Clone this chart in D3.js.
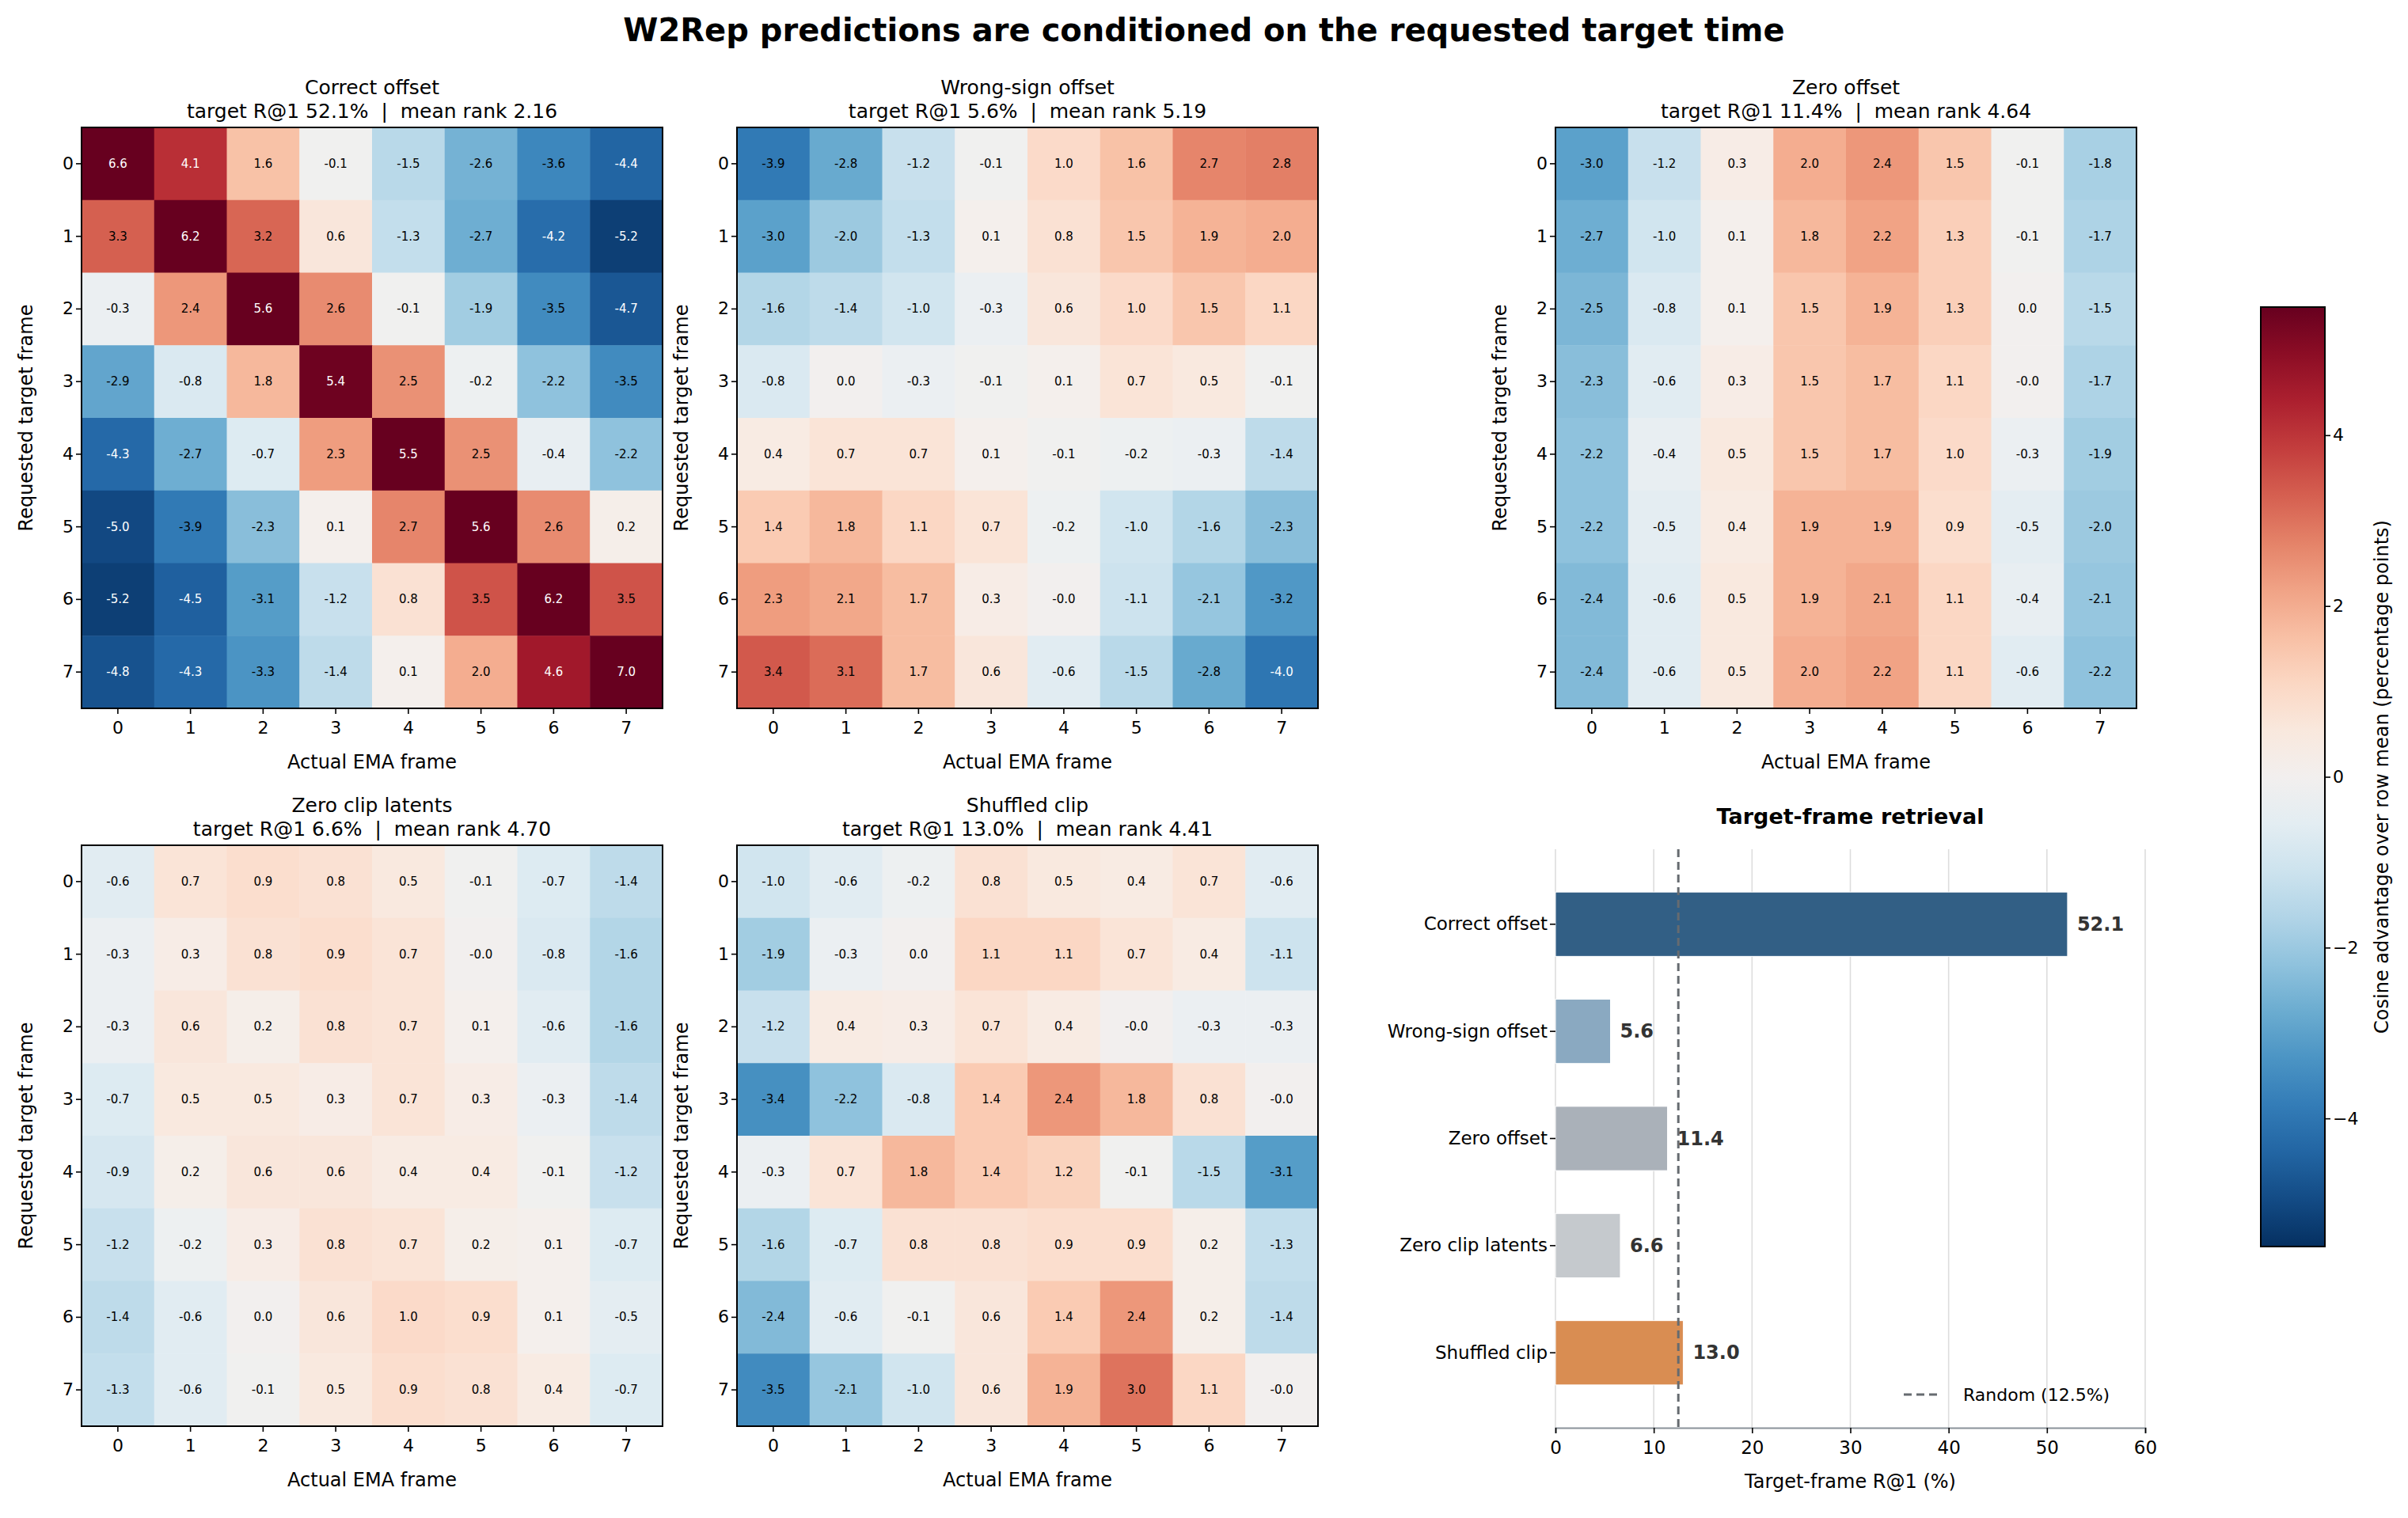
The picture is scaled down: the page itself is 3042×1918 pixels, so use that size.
<!DOCTYPE html>
<html><head><meta charset="utf-8">
<script src="https://cdn.jsdelivr.net/npm/d3@7"></script>
<style>body{margin:0;background:#fff;font-family:"DejaVu Sans",sans-serif;} text{white-space:pre;}</style>
</head><body>
<svg id="fig" width="3042" height="1918"></svg>
<script>
// data
var frames = [0,1,2,3,4,5,6,7];
var panelTitles = ["Correct offset","Wrong-sign offset","Zero offset","Zero clip latents","Shuffled clip"];
var panelSubtitles = ["target R@1 52.1%  |  mean rank 2.16","target R@1 5.6%  |  mean rank 5.19",
  "target R@1 11.4%  |  mean rank 4.64","target R@1 6.6%  |  mean rank 4.70","target R@1 13.0%  |  mean rank 4.41"];
var correctOffset = [
  [6.6,4.1,1.6,-0.1,-1.5,-2.6,-3.6,-4.4],
  [3.3,6.2,3.2,0.6,-1.3,-2.7,-4.2,-5.2],
  [-0.3,2.4,5.6,2.6,-0.1,-1.9,-3.5,-4.7],
  [-2.9,-0.8,1.8,5.4,2.5,-0.2,-2.2,-3.5],
  [-4.3,-2.7,-0.7,2.3,5.5,2.5,-0.4,-2.2],
  [-5.0,-3.9,-2.3,0.1,2.7,5.6,2.6,0.2],
  [-5.2,-4.5,-3.1,-1.2,0.8,3.5,6.2,3.5],
  [-4.8,-4.3,-3.3,-1.4,0.1,2.0,4.6,7.0]];
var wrongSign = [
  [-3.9,-2.8,-1.2,-0.1,1.0,1.6,2.7,2.8],
  [-3.0,-2.0,-1.3,0.1,0.8,1.5,1.9,2.0],
  [-1.6,-1.4,-1.0,-0.3,0.6,1.0,1.5,1.1],
  [-0.8,0.0,-0.3,-0.1,0.1,0.7,0.5,-0.1],
  [0.4,0.7,0.7,0.1,-0.1,-0.2,-0.3,-1.4],
  [1.4,1.8,1.1,0.7,-0.2,-1.0,-1.6,-2.3],
  [2.3,2.1,1.7,0.3,-0.0,-1.1,-2.1,-3.2],
  [3.4,3.1,1.7,0.6,-0.6,-1.5,-2.8,-4.0]];
var zeroOffset = [
  [-3.0,-1.2,0.3,2.0,2.4,1.5,-0.1,-1.8],
  [-2.7,-1.0,0.1,1.8,2.2,1.3,-0.1,-1.7],
  [-2.5,-0.8,0.1,1.5,1.9,1.3,0.0,-1.5],
  [-2.3,-0.6,0.3,1.5,1.7,1.1,-0.0,-1.7],
  [-2.2,-0.4,0.5,1.5,1.7,1.0,-0.3,-1.9],
  [-2.2,-0.5,0.4,1.9,1.9,0.9,-0.5,-2.0],
  [-2.4,-0.6,0.5,1.9,2.1,1.1,-0.4,-2.1],
  [-2.4,-0.6,0.5,2.0,2.2,1.1,-0.6,-2.2]];
var zeroClip = [
  [-0.6,0.7,0.9,0.8,0.5,-0.1,-0.7,-1.4],
  [-0.3,0.3,0.8,0.9,0.7,-0.0,-0.8,-1.6],
  [-0.3,0.6,0.2,0.8,0.7,0.1,-0.6,-1.6],
  [-0.7,0.5,0.5,0.3,0.7,0.3,-0.3,-1.4],
  [-0.9,0.2,0.6,0.6,0.4,0.4,-0.1,-1.2],
  [-1.2,-0.2,0.3,0.8,0.7,0.2,0.1,-0.7],
  [-1.4,-0.6,0.0,0.6,1.0,0.9,0.1,-0.5],
  [-1.3,-0.6,-0.1,0.5,0.9,0.8,0.4,-0.7]];
var shuffledClip = [
  [-1.0,-0.6,-0.2,0.8,0.5,0.4,0.7,-0.6],
  [-1.9,-0.3,0.0,1.1,1.1,0.7,0.4,-1.1],
  [-1.2,0.4,0.3,0.7,0.4,-0.0,-0.3,-0.3],
  [-3.4,-2.2,-0.8,1.4,2.4,1.8,0.8,-0.0],
  [-0.3,0.7,1.8,1.4,1.2,-0.1,-1.5,-3.1],
  [-1.6,-0.7,0.8,0.8,0.9,0.9,0.2,-1.3],
  [-2.4,-0.6,-0.1,0.6,1.4,2.4,0.2,-1.4],
  [-3.5,-2.1,-1.0,0.6,1.9,3.0,1.1,-0.0]];
var barLabels = ["Correct offset","Wrong-sign offset","Zero offset","Zero clip latents","Shuffled clip"];
var barValues = [52.1,5.6,11.4,6.6,13.0];
var barColors = ["#325f85","#8aa9c1","#aab1b9","#c5c9cd","#d98d52"];
var barTicks = [0,10,20,30,40,50,60];
var randomLevel = 12.5;
var cbarTicks = [-4,-2,0,2,4];

var svg = d3.select("#fig");
var vmax = 5.5;
var color = function(v){ return d3.interpolateRdBu(0.5 - Math.max(-1,Math.min(1,v/vmax))/2); };
var fmt = function(v){ return (v < 0 || Object.is(v,-0) ? "-" : "") + Math.abs(v).toFixed(1); };
var tickFmt = function(v){ return v < 0 ? "\u2212" + Math.abs(v) : String(v); };

svg.append("text").attr("x",1521).attr("y",52).attr("text-anchor","middle")
  .style("font-size","40px").style("font-weight","bold").text("W2Rep predictions are conditioned on the requested target time");

var mats = [correctOffset, wrongSign, zeroOffset, zeroClip, shuffledClip];
var boxes = [[103,161],[931,161],[1965,161],[103,1068],[931,1068]];
var size = 734;

mats.forEach(function(m, p){
  var g = svg.append("g").attr("transform","translate("+boxes[p][0]+","+boxes[p][1]+")");
  var x = d3.scaleBand().domain(frames).range([0,size]);
  var y = d3.scaleBand().domain(frames).range([0,size]);
  frames.forEach(function(r){
    g.selectAll(null).data(m[r]).enter().append("rect")
      .attr("x",function(d,i){return x(i);}).attr("y",y(r))
      .attr("width",x.bandwidth()+0.5).attr("height",y.bandwidth()+0.5)
      .attr("fill",function(d){return color(d);});
    g.selectAll(null).data(m[r]).enter().append("text")
      .attr("x",function(d,i){return x(i)+x.bandwidth()/2;}).attr("y",y(r)+y.bandwidth()/2)
      .attr("text-anchor","middle").attr("dominant-baseline","central")
      .style("font-size","15px").attr("fill",function(d){return Math.abs(d)>=4?"#fff":"#000";})
      .text(fmt);
  });
  g.append("rect").attr("width",size).attr("height",size).attr("fill","none").attr("stroke","#000").attr("stroke-width",2);
  var xa = g.append("g").attr("transform","translate(0,"+size+")").call(d3.axisBottom(x).tickSizeOuter(0).tickSize(7));
  var ya = g.append("g").call(d3.axisLeft(y).tickSizeOuter(0).tickSize(7));
  [xa,ya].forEach(function(a){ a.select(".domain").remove(); a.selectAll("text").style("font-size","22px").style("font-family","DejaVu Sans"); a.selectAll("line").attr("stroke-width",1.6); });
  xa.selectAll("text").attr("dy","1.0em");
  g.append("text").attr("x",size/2).attr("y",size+76).attr("text-anchor","middle").style("font-size","24px").text("Actual EMA frame");
  g.append("text").attr("transform","translate(-62,"+size/2+") rotate(-90)").attr("text-anchor","middle").style("font-size","24px").text("Requested target frame");
  g.append("text").attr("x",size/2).attr("y",-42).attr("text-anchor","middle").style("font-size","25px").text(panelTitles[p]);
  g.append("text").attr("x",size/2).attr("y",-12).attr("text-anchor","middle").style("font-size","25px").text(panelSubtitles[p]);
});

// bar chart
var bg = svg.append("g").attr("transform","translate(1965,1073)");
var bw = 745, bh = 731;
var bx = d3.scaleLinear().domain([0,60]).range([0,bw]);
var by = d3.scaleBand().domain(barLabels).range([0,bh]).padding(0.4);
bg.selectAll(null).data(barTicks).enter().append("line")
  .attr("x1",bx).attr("x2",bx).attr("y1",0).attr("y2",bh).attr("stroke","#dddddd").attr("stroke-width",1.6);
bg.selectAll(null).data(barValues).enter().append("rect")
  .attr("x",0).attr("y",function(d,i){return by(barLabels[i]);})
  .attr("width",function(d){return bx(d);}).attr("height",by.bandwidth())
  .attr("fill",function(d,i){return barColors[i];}).attr("stroke","#fff").attr("stroke-width",1);
bg.selectAll(null).data(barValues).enter().append("text")
  .attr("x",function(d){return bx(d)+12;}).attr("y",function(d,i){return by(barLabels[i])+by.bandwidth()/2;})
  .attr("dominant-baseline","central").style("font-size","24px").style("font-weight","bold").attr("fill","#333")
  .text(function(d){return d.toFixed(1);});
bg.append("line").attr("x1",bx(randomLevel)).attr("x2",bx(randomLevel)).attr("y1",0).attr("y2",bh)
  .attr("stroke","#666b70").attr("stroke-width",3).attr("stroke-dasharray","10,6");
var bxa = bg.append("g").attr("transform","translate(0,"+bh+")").call(d3.axisBottom(bx).tickValues(barTicks).tickSize(7));
bxa.select(".domain").attr("stroke","#8a9299").attr("stroke-width",2);
var bya = bg.append("g").call(d3.axisLeft(by).tickSize(7));
bya.select(".domain").remove();
[bxa,bya].forEach(function(a){ a.selectAll("text").style("font-size","23px").style("font-family","DejaVu Sans"); a.selectAll("line").attr("stroke-width",1.6); });
bxa.selectAll("text").attr("dy","1.0em");
bg.append("text").attr("x",bw/2).attr("y",bh+76).attr("text-anchor","middle").style("font-size","24px").text("Target-frame R@1 (%)");
bg.append("text").attr("x",bw/2).attr("y",-32).attr("text-anchor","middle").style("font-size","27px").style("font-weight","bold").text("Target-frame retrieval");
bg.append("line").attr("x1",bw-305).attr("x2",bw-257).attr("y1",bh-42).attr("y2",bh-42)
  .attr("stroke","#666b70").attr("stroke-width",3).attr("stroke-dasharray","10,6");
bg.append("text").attr("x",bw-230).attr("y",bh-42).attr("dominant-baseline","central").style("font-size","22px").text("Random (12.5%)");

// colorbar
var cg = svg.append("g").attr("transform","translate(2856,388)");
var ch = 1187, cw = 81;
var cy = d3.scaleLinear().domain([-vmax,vmax]).range([ch,0]);
var grad = svg.append("defs").append("linearGradient").attr("id","cb").attr("x1",0).attr("y1",1).attr("x2",0).attr("y2",0);
d3.range(0,1.0001,0.05).forEach(function(t){
  grad.append("stop").attr("offset",t).attr("stop-color",color(-vmax+2*vmax*t));
});
cg.append("rect").attr("width",cw).attr("height",ch).attr("fill","url(#cb)").attr("stroke","#000").attr("stroke-width",2);
var ca = cg.append("g").attr("transform","translate("+cw+",0)").call(d3.axisRight(cy).tickValues(cbarTicks).tickFormat(tickFmt).tickSize(7));
ca.select(".domain").remove();
ca.selectAll("text").style("font-size","22px").style("font-family","DejaVu Sans");
ca.selectAll("line").attr("stroke-width",1.6);
cg.append("text").attr("transform","translate("+(cw+80)+","+ch/2+") rotate(-90)").attr("text-anchor","middle")
  .style("font-size","24px").text("Cosine advantage over row mean (percentage points)");
</script>
</body></html>
